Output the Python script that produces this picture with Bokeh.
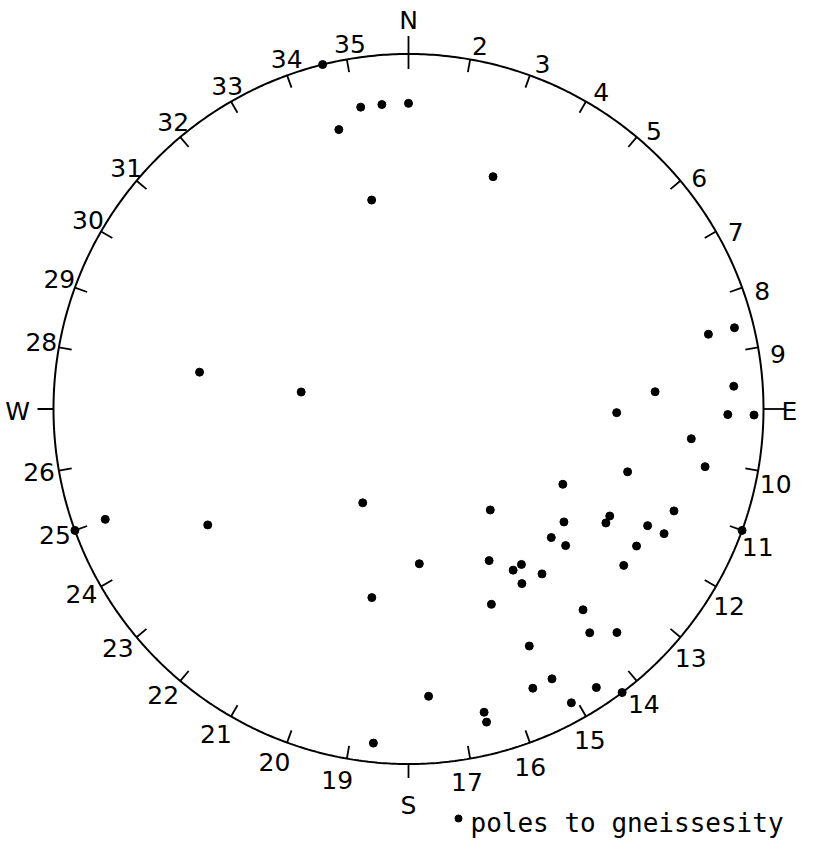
import numpy as np
from bokeh.plotting import figure
from bokeh.models import Range1d, ColumnDataSource
from bokeh.core.properties import value
from bokeh.embed import file_html
from bokeh.resources import INLINE

# ---- data: poles to gneissosity (trend, plunge in degrees), lower hemisphere equal-area net
trend = [346, 351, 355, 0, 346, 20, 350, 76, 76, 86, 86, 91, 91, 91, 96, 101, 106, 116,
         206, 250, 250, 240, 280, 279, 141, 126, 120, 118, 111, 116, 116, 132, 131, 121,
         110, 126, 176, 152, 147, 144, 141, 147, 157, 191, 139, 141, 137, 153, 152, 156,
         146, 143, 151, 176, 166, 166, 186]
plunge = [0, 15, 15, 15, 20, 31, 40, 6, 14, 31, 9, 41, 11, 3, 21, 16, 36, 50,
          66, 10, 0, 35, 40, 65, 60, 45, 36, 36, 21, 26, 21, 45, 41, 26,
          0, 26, 54, 50, 45, 45, 40, 41, 40, 45, 26, 20, 15, 26, 15, 15,
          6, 0, 6, 20, 13, 10, 6]

tick_azimuths = [10, 20, 30, 40, 50, 60, 70, 80,
                 100, 110, 120, 130, 140, 150, 160, 170,
                 190, 200, 210, 220, 230, 240, 250, 260,
                 280, 290, 300, 310, 320, 330, 340, 350]
tick_labels = ["2", "3", "4", "5", "6", "7", "8", "9",
               "10", "11", "12", "13", "14", "15", "16", "17",
               "19", "20", "21", "22", "23", "24", "25", "26",
               "28", "29", "30", "31", "32", "33", "34", "35"]
cardinal_azimuths = [0, 90, 180, 270]
cardinal_labels = ["N", "E", "S", "W"]
legend_text = "poles to gneissesity"

# ---- layout / style
R = 355.0
W, H = 798, 841
CX, CY = 408.0, 408.5
FONT = value("DejaVu Sans")

p = figure(width=W, height=H, x_range=Range1d(-CX, W - CX), y_range=Range1d(-(H - CY), CY),
           output_backend="svg", toolbar_location=None, min_border=0,
           x_axis_location=None, y_axis_location=None)
p.grid.visible = False
p.outline_line_color = None
p.background_fill_color = "white"
p.border_fill_color = "white"

# primitive circle
th = np.radians(np.linspace(0, 360, 721))
p.line(R * np.sin(th), R * np.cos(th), line_color="black", line_width=2)

# regular ticks (inward)
az = np.radians(np.array(tick_azimuths, dtype=float))
tick_len = 13
p.segment(x0=R * np.sin(az), y0=R * np.cos(az),
          x1=(R - tick_len) * np.sin(az), y1=(R - tick_len) * np.cos(az),
          line_color="black", line_width=1.8)

# cardinal ticks
caz = np.radians(np.array(cardinal_azimuths, dtype=float))
c_out = np.array([18, 21, 14, 16], dtype=float)
c_in = np.array([15, 0, 0, 0], dtype=float)
p.segment(x0=(R + c_out) * np.sin(caz), y0=(R + c_out) * np.cos(caz),
          x1=(R - c_in) * np.sin(caz), y1=(R - c_in) * np.cos(caz),
          line_color="black", line_width=1.8)

# tick labels
laz = np.radians(np.array(tick_azimuths, dtype=float) + 1.0)
RL = 374
p.text(x=RL * np.sin(laz), y=RL * np.cos(laz) - 4, text=tick_labels,
       text_align="center", text_baseline="middle", text_font=FONT,
       text_font_size="25px", text_color="black")

# cardinal labels
RC = np.array([391, 381, 394, 391], dtype=float)
p.text(x=RC * np.sin(caz), y=RC * np.cos(caz) - 2, text=cardinal_labels,
       text_align="center", text_baseline="middle", text_font=FONT,
       text_font_size="25px", text_color="black")

# poles (Schmidt equal-area projection)
t = np.radians(np.array(trend, dtype=float))
pl = np.radians(np.array(plunge, dtype=float))
rn = np.sqrt(2.0) * np.sin((np.pi / 2 - pl) / 2)
src = ColumnDataSource(dict(x=R * rn * np.sin(t), y=R * rn * np.cos(t)))
p.scatter("x", "y", source=src, size=8, marker="circle",
          fill_color="black", line_color="black")

# legend
LX, LY = 458 - CX, CY - 822
p.scatter(x=[LX], y=[LY + 4], size=7, marker="circle", fill_color="black", line_color="black")
p.text(x=[LX + 12], y=[LY], text=[legend_text], text_align="left", text_baseline="middle",
       text_font=value("DejaVu Sans Mono"), text_font_size="26px", text_color="black")

open("out.html", "w").write(file_html(p, INLINE))
